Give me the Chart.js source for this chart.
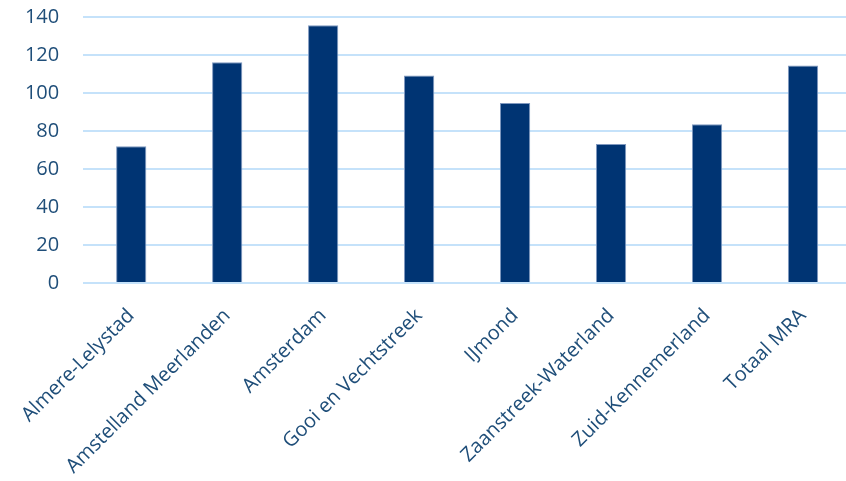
<!DOCTYPE html>
<html>
<head>
<meta charset="utf-8">
<script src="https://cdn.jsdelivr.net/npm/chart.js@4"></script>
<style>
  html, body { margin: 0; padding: 0; background: #fff; }
  #frame { width: 846px; height: 481px; position: relative; overflow: hidden; }
  #wrap { width: 852px; height: 500px; position: absolute; left: -1px; top: -19px; }
</style>
</head>
<body>
<div id="frame"><div id="wrap"><canvas id="chart"></canvas></div></div>
<script>
const regios = ["Almere-Lelystad", "Amstelland Meerlanden", "Amsterdam", "Gooi en Vechtstreek",
                "IJmond", "Zaanstreek-Waterland", "Zuid-Kennemerland", "Totaal MRA"];
const waarden = [72, 116.2, 135.6, 109.2, 94.7, 73.2, 83.5, 114.5];
const yTicks = [0, 20, 40, 60, 80, 100, 120, 140];

const donkerblauw = '#003473';
const tekstkleur = '#1F4E79';
const rasterkleur = '#C5E2FA';

Chart.defaults.font.family = '"Open Sans", sans-serif';
Chart.defaults.color = tekstkleur;

new Chart(document.getElementById('chart').getContext('2d'), {
    type: 'bar',
    data: {
        labels: regios,
        datasets: [{
            data: waarden,
            backgroundColor: donkerblauw,
            borderColor: '#7F98BF',
            borderWidth: 1,
            categoryPercentage: 1,
            barPercentage: 0.315
        }]
    },
    options: {
        responsive: true,
        maintainAspectRatio: false,
        animation: false,
        layout: { padding: 0 },
        plugins: {
            legend: { display: false },
            tooltip: { enabled: false }
        },
        scales: {
            x: {
                grid: { display: false, drawTicks: false },
                border: { display: false },
                afterFit: (axis) => { axis.height = 198; },
                ticks: {
                    font: { size: 20 },
                    color: tekstkleur,
                    maxRotation: 45,
                    minRotation: 45,
                    padding: 21
                }
            },
            y: {
                min: 0,
                max: 140,
                afterBuildTicks: (axis) => {
                    axis.ticks = yTicks.map(v => ({ value: v }));
                },
                afterFit: (axis) => { axis.width = 82; },
                grid: { color: rasterkleur, lineWidth: 2, drawTicks: false },
                border: { display: false },
                ticks: {
                    font: { size: 20 },
                    color: tekstkleur,
                    padding: 24
                }
            }
        }
    }
});
</script>
</body>
</html>
